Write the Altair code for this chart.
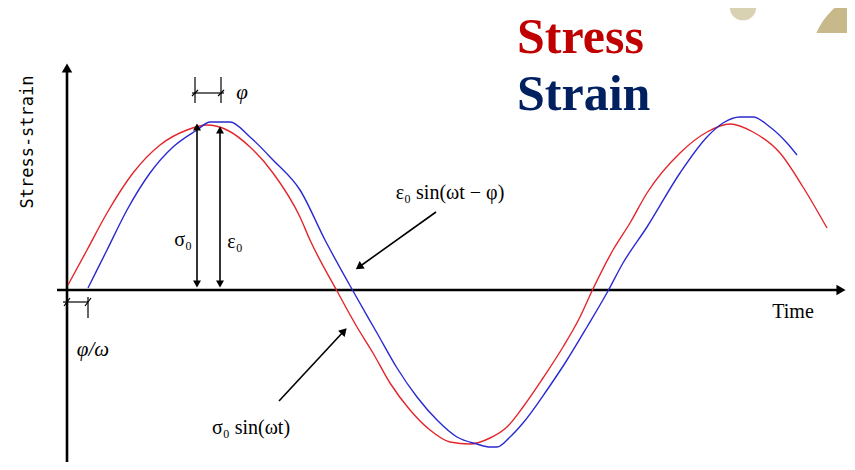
import altair as alt
import pandas as pd

# ---- data (time from origin, value from the time axis) ----
stress_t = [1, 20, 40, 66, 93, 120, 140, 160, 183, 206, 233, 243, 270, 290, 306, 323, 343, 363, 383, 403,
            423, 440, 456, 476, 496, 513, 525, 546, 563, 580, 613, 640, 663, 686, 713, 736, 760]
stress_v = [5, 40, 77, 117, 145, 160, 165, 160, 143, 117, 73, 50, -1, -37, -63, -93, -120, -140, -152, -154,
            -148, -137, -117, -88, -57, -27, -1, 40, 67, 97, 137, 158, 166, 158, 137, 103, 62]
strain_t = [21, 40, 60, 83, 106, 130, 143, 163, 183, 206, 233, 258, 286, 310, 330, 350, 370, 390, 410, 423,
            430, 443, 456, 480, 500, 520, 541, 556, 580, 613, 640, 656, 673, 686, 703, 720, 730]
strain_v = [2, 40, 80, 117, 143, 160, 168, 168, 153, 130, 100, 50, -1, -43, -78, -107, -130, -147, -154, -157,
            -157, -147, -133, -100, -70, -37, -1, 27, 63, 117, 153, 167, 173, 173, 163, 147, 135]

series_names = ["Stress", "Strain"]
series_colors = ["#E3262B", "#2A2AD2"]

# axis lines (x1, y1, x2, y2)
axis_x1 = [0, -10]
axis_y1 = [-180, 0]
axis_x2 = [0, 774]
axis_y2 = [222, 0]

# amplitude arrows and pointer arrows
arrow_x1 = [130, 153, 369, 212]
arrow_y1 = [4, 4, 78, -111]
arrow_x2 = [130, 153, 292, 277]
arrow_y2 = [163, 160, 23, -41]

# arrow heads: position and direction (degrees)
head_x = [0, 774, 130, 130, 153, 153, 292, 277]
head_y = [222, 0, 163, 6, 160, 6, 23, -41]
head_angle = [0, 90, 0, 180, 0, 180, 235, 43]
head_size = [110, 110, 64, 64, 64, 64, 80, 80]

# phase brackets
brk_x1 = [128, 154, 125, 21, -4, 125, 151, -3, 18]
brk_y1 = [187, 187, 197, -7, -12, 194, 194, -16, -16]
brk_x2 = [128, 154, 157, 21, 21, 131, 157, 3, 24]
brk_y2 = [213, 213, 197, -28, -12, 200, 200, -8, -8]

# labels
math_text = ["ε₀ sin(ωt − φ)", "σ₀ sin(ωt)", "σ₀", "ε₀"]
math_x = [383, 184, 116, 168]
math_y = [97, -138, 50, 48]
ital_text = ["φ", "φ/ω"]
ital_x = [175, 26]
ital_y = [197, -60]

title_text = ["Stress", "Strain"]
title_x = [450, 450]
title_y = [237, 180]
title_colors = ["#C00000", "#002060"]

# decoration circles
deco_x = [676, 813]
deco_y = [283, 230]
deco_size = [707, 19100]
deco_color = ["#D8D1B2", "#C7B98A"]

xs = alt.Scale(domain=[-59, 780], nice=False, zero=False)
ys = alt.Scale(domain=[-172, 282], nice=False, zero=False)


def X(f):
    return alt.X(f"{f}:Q", scale=xs, axis=None)


def Y(f):
    return alt.Y(f"{f}:Q", scale=ys, axis=None)


deco = alt.Chart(pd.DataFrame({"x": deco_x, "y": deco_y, "s": deco_size, "c": deco_color})).mark_point(
    shape="circle", filled=True, opacity=1
).encode(x=X("x"), y=Y("y"), size=alt.Size("s:Q", scale=None), color=alt.Color("c:N", scale=None))

mask = alt.Chart(pd.DataFrame({"x": [730], "x2": [800], "y": [150], "y2": [257]})).mark_rect(
    color="white"
).encode(x=X("x"), x2="x2", y=Y("y"), y2="y2")

curves = pd.DataFrame({
    "t": stress_t + strain_t,
    "v": stress_v + strain_v,
    "series": [series_names[0]] * len(stress_t) + [series_names[1]] * len(strain_t),
})
lines = alt.Chart(curves).mark_line(strokeWidth=1.4, interpolate="monotone").encode(
    x=X("t"), y=Y("v"),
    color=alt.Color("series:N", scale=alt.Scale(domain=series_names, range=series_colors), legend=None),
)


def segs(x1, y1, x2, y2, width):
    df = pd.DataFrame({"x1": x1, "y1": y1, "x2": x2, "y2": y2})
    return alt.Chart(df).mark_rule(color="black", strokeWidth=width).encode(
        x=X("x1"), y=Y("y1"), x2="x2", y2="y2"
    )


axes = segs(axis_x1, axis_y1, axis_x2, axis_y2, 2.6)
arrows = segs(arrow_x1, arrow_y1, arrow_x2, arrow_y2, 1.6)
brackets = segs(brk_x1, brk_y1, brk_x2, brk_y2, 1.2)

heads = alt.Chart(pd.DataFrame({"x": head_x, "y": head_y, "a": head_angle, "s": head_size})).mark_point(
    shape="triangle-up", filled=True, color="black", opacity=1
).encode(x=X("x"), y=Y("y"), angle=alt.Angle("a:Q", scale=None), size=alt.Size("s:Q", scale=None))

math_lbl = alt.Chart(pd.DataFrame({"x": math_x, "y": math_y, "t": math_text})).mark_text(
    font="Liberation Serif", fontSize=20, color="black", align="center", baseline="middle"
).encode(x=X("x"), y=Y("y"), text="t:N")

ital_lbl = alt.Chart(pd.DataFrame({"x": ital_x, "y": ital_y, "t": ital_text})).mark_text(
    font="Liberation Serif", fontSize=21, fontStyle="italic", color="black", align="center", baseline="middle"
).encode(x=X("x"), y=Y("y"), text="t:N")

time_lbl = alt.Chart(pd.DataFrame({"x": [726], "y": [-22], "t": ["Time"]})).mark_text(
    font="Liberation Serif", fontSize=20, color="black", align="center", baseline="middle"
).encode(x=X("x"), y=Y("y"), text="t:N")

ylab = alt.Chart(pd.DataFrame({"x": [-39], "y": [148], "t": ["Stress-strain"]})).mark_text(
    font="DejaVu Sans Mono", fontSize=17, color="black", angle=270, align="center", baseline="middle"
).encode(x=X("x"), y=Y("y"), text="t:N")

titles = alt.Chart(pd.DataFrame({"x": title_x, "y": title_y, "t": title_text, "c": title_colors})).mark_text(
    font="Liberation Serif", fontSize=50, fontWeight="bold", align="left", baseline="alphabetic"
).encode(x=X("x"), y=Y("y"), text="t:N", color=alt.Color("c:N", scale=None))

chart = alt.layer(
    deco, mask, axes, lines, arrows, brackets, heads, math_lbl, ital_lbl, time_lbl, ylab, titles
).properties(
    width=839, height=454, padding=0,
    autosize=alt.AutoSizeParams(type="none"),
    background="white",
).configure_view(stroke=None)

chart.save("out.html", embed_options={"renderer": "svg", "actions": False})
